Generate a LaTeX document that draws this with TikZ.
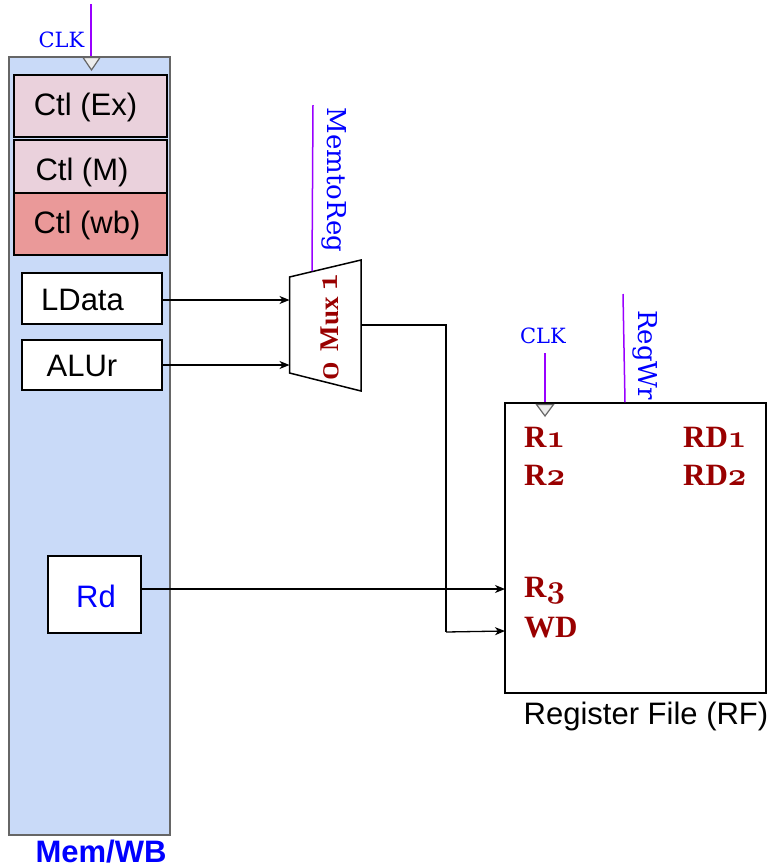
\documentclass[tikz,border=0pt]{standalone}
\usepackage{fontspec}
\newfontfamily\arial{Liberation Sans}
\newfontfamily\lserif{Liberation Serif}
\newfontfamily\dvserif{DejaVu Serif}
\usetikzlibrary{arrows.meta}
\definecolor{regblue}{HTML}{C9DAF8}
\definecolor{regborder}{HTML}{666666}
\definecolor{ctlpink}{HTML}{EAD1DC}
\definecolor{ctlred}{HTML}{EA9999}
\definecolor{sigpurple}{HTML}{9900FF}
\definecolor{labblue}{HTML}{0000FF}
\definecolor{darkred}{HTML}{990000}
\newcommand{\osd}[1]{\scalebox{1.3}{\boldmath$\mathnormal{#1}$}}
\begin{document}
\begin{tikzpicture}[x=1pt,y=-1pt,
  box/.style={draw=black,line width=1.5pt,rectangle,inner sep=0pt},
  sanslab/.style={font=\arial\fontsize{31}{36}\selectfont,inner sep=0pt},
  sigline/.style={draw=sigpurple,line width=1.5pt},
  siglab/.style={text=labblue,font=\dvserif\fontsize{26}{30}\selectfont,inner sep=0pt},
  clklab/.style={text=labblue,font=\dvserif\fontsize{21}{25}\selectfont,inner sep=0pt},
  rflab/.style={text=darkred,font=\lserif\bfseries\fontsize{31}{36}\selectfont,inner sep=0pt,anchor=base west},
  muxlab/.style={text=darkred,font=\lserif\bfseries\fontsize{27}{30}\selectfont,inner sep=0pt,rotate=90},
  clktri/.style={draw=regborder,fill=black!7,line width=1.2pt,line join=miter},
  arr/.style={-{Stealth[length=10pt,width=8pt,inset=3pt]},line width=1.3pt,draw=black}]
\useasboundingbox (0,0) rectangle (769,868);
\fill[white] (0,0) rectangle (769,868);

% Mem/WB pipeline register
\node[draw=regborder,fill=regblue,line width=1.5pt,minimum width=161pt,minimum height=778pt,inner sep=0pt] (memwb) at (89.5,446) {};
\node[text=labblue,font=\arial\bfseries\fontsize{31}{34}\selectfont,inner sep=0pt] (memwblab) at (101,852) {Mem/WB};

% clock of Mem/WB
\coordinate (clktop1) at (91,4);
\coordinate (clkin1) at (memwb.north -| clktop1);
\draw[sigline] (clktop1) -- (clkin1);
\draw[clktri] (83,57.5) -- (100,57.5) -- (91.5,70) -- cycle;
\node[clklab] (clk1) at (61.5,40) {CLK};

% control fields
\node[box,fill=ctlpink,minimum width=153pt,minimum height=62pt] (ctlex) at (90.5,106) {};
\node[sanslab] at (85.5,107) {Ctl (Ex)};
\node[box,fill=ctlpink,minimum width=153pt,minimum height=60pt] (ctlm) at (90.5,170) {};
\node[sanslab] at (82,172) {Ctl (M)};
\node[box,fill=ctlred,minimum width=153pt,minimum height=62pt] (ctlwb) at (90.5,224) {};
\node[sanslab] at (87,225) {Ctl (wb)};

% data fields
\node[box,fill=white,minimum width=140pt,minimum height=51pt] (ldata) at (92,298.5) {};
\node[sanslab] at (82.5,300) {LData};
\node[box,fill=white,minimum width=140pt,minimum height=50pt] (alur) at (92,365) {};
\node[sanslab] at (82,366) {ALUr};
\node[box,fill=white,minimum width=93pt,minimum height=77pt] (rd) at (94.5,594.5) {};
\node[sanslab,text=labblue] at (96,596) {Rd};

% Mux
\coordinate (mlt) at (289.5,277);
\coordinate (mlb) at (289.5,373);
\coordinate (mrt) at (361,260);
\coordinate (mrb) at (361,391);
\draw[line width=1.5pt,line join=miter,fill=white] (mlt) -- (mrt) -- (mrb) -- (mlb) -- cycle;
\node[muxlab] (mux1) at (330,282) {\osd{1}};
\node[muxlab] (muxname) at (330,324) {Mux};
\node[muxlab] (mux0) at (331,371) {\osd{0}};
\coordinate (muxin1) at (289.5,300);
\coordinate (muxin0) at (289.5,365);
\coordinate (muxout) at (361,325);
\coordinate (muxsel) at (312,271);

% MemtoReg
\coordinate (mtrtop) at (313,105);
\draw[sigline] (mtrtop) -- (muxsel);
\node[siglab,rotate=-90] (mtr) at (334,180) {MemtoReg};

% Register file
\node[box,fill=white,minimum width=261pt,minimum height=290pt] (rf) at (635.5,548) {};
\node[sanslab] (rflabel) at (646,716) {Register File (RF)};
\coordinate (clktop2) at (545,353);
\coordinate (clkin2) at (rf.north -| clktop2);
\draw[sigline] (clktop2) -- (clkin2);
\draw[clktri] (536.5,404.5) -- (553.5,404.5) -- (545,416) -- cycle;
\node[clklab] (clk2) at (543,336) {CLK};
\coordinate (rwtop) at (623,294);
\coordinate (rwin) at (rf.north -| 625,0);
\draw[sigline] (rwtop) -- (rwin);
\node[siglab,rotate=-90] (regwr) at (645,355) {RegWr};

\node[rflab] (r1) at (524,447) {R\osd{1}};
\node[rflab] (r2) at (524,485) {R\osd{2}};
\node[rflab] (r3) at (524,597) {R\osd{3}};
\node[rflab] (wd) at (524,637) {WD};
\node[rflab] (rd1) at (683,447) {RD\osd{1}};
\node[rflab] (rd2) at (683,485) {RD\osd{2}};

\coordinate (r3in) at (505,589);
\coordinate (wdin) at (505,631);
\coordinate (bend) at (446,632);

% connectors
\draw[arr] (ldata.east |- muxin1) -- (muxin1);
\draw[arr] (alur.east |- muxin0) -- (muxin0);
\draw[arr] (rd.east |- r3in) -- (r3in);
\draw[line width=1.3pt] (muxout) -| (bend);
\draw[arr] (bend) -- (wdin);
\end{tikzpicture}
\end{document}
